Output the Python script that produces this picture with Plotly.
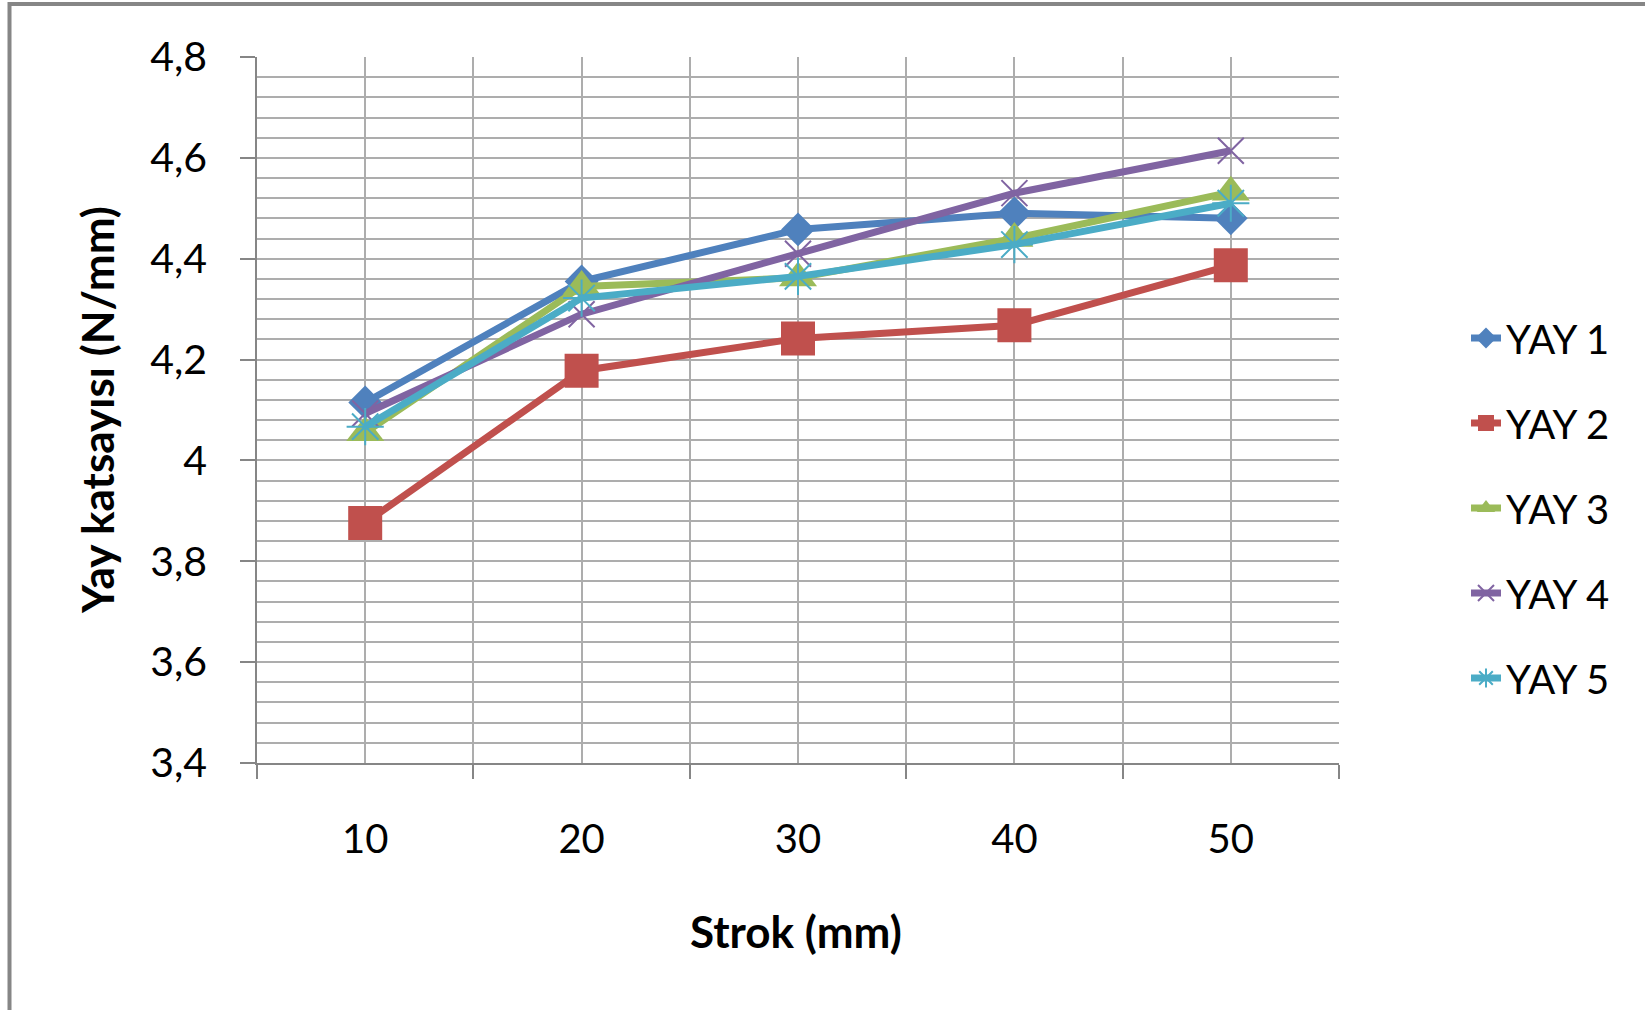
import plotly.graph_objects as go

# ---- data ----
strok = [10, 20, 30, 40, 50]
yay1 = [4.115, 4.355, 4.458, 4.490, 4.480]
yay2 = [3.876, 4.178, 4.242, 4.268, 4.387]
yay3 = [4.055, 4.345, 4.362, 4.440, 4.532]
yay4 = [4.093, 4.290, 4.410, 4.530, 4.614]
yay5 = [4.067, 4.322, 4.365, 4.428, 4.510]
series_names = ["YAY 1", "YAY 2", "YAY 3", "YAY 4", "YAY 5"]
y_tickvals = [3.4, 3.6, 3.8, 4.0, 4.2, 4.4, 4.6, 4.8]
y_ticktext = ["3,4", "3,6", "3,8", "4", "4,2", "4,4", "4,6", "4,8"]
x_ticktext = ["10", "20", "30", "40", "50"]

colors = ["#4F81BD", "#C0504D", "#9BBB59", "#8064A2", "#4BACC6"]
symbols = ["diamond", "square", "triangle-up", "x-thin-open", "asterisk-open"]
sizes = [26, 34, 33, 26, 31]
mlw = [0, 0, 0, 2, 2]

W, H = 1645, 1010
L, R, T, B = 257, 1645 - 1339, 57, 1010 - 763
pw, ph = W - L - R, H - T - B

def px_x(px):
    return (px - L) / pw

def px_y(py):
    return (H - B - py) / ph

FONT = "Lato"
fig = go.Figure()
for i, vals in enumerate([yay1, yay2, yay3, yay4, yay5]):
    fig.add_trace(go.Scatter(
        x=strok, y=vals, name=series_names[i], mode="lines+markers",
        legendgroup=f"g{i}",
        line=dict(color=colors[i], width=7),
        marker=dict(symbol=symbols[i], size=sizes[i], color=colors[i],
                    line=dict(color=colors[i], width=mlw[i])),
    ))

fig.update_layout(
    width=W, height=H,
    margin=dict(l=L, r=R, t=T, b=B, autoexpand=False),
    paper_bgcolor="white", plot_bgcolor="white",
    font=dict(family=FONT, size=40, color="#000000"),
    showlegend=True,
    legend=dict(x=px_x(1466), y=px_y(508), xanchor="left", yanchor="middle",
                font=dict(family=FONT, size=40, color="#000000"),
                tracegroupgap=30, bgcolor="rgba(0,0,0,0)"),
    xaxis=dict(
        range=[5, 55], tickvals=strok, ticktext=x_ticktext, ticks="",
        showgrid=True, gridcolor="#adadad", gridwidth=1.5,
        showline=True, linecolor="#868686", linewidth=1.5,
        zeroline=False, ticklabelstandoff=40,
        tickfont=dict(family=FONT, size=40, color="#000000"),
        minor=dict(tick0=5, dtick=10, ticks="outside", ticklen=14,
                   tickcolor="#868686", tickwidth=1.5,
                   showgrid=True, gridcolor="#adadad", gridwidth=1.5),
    ),
    yaxis=dict(
        range=[3.4, 4.8], tickvals=y_tickvals, ticktext=y_ticktext,
        ticks="outside", ticklen=15, tickcolor="#868686", tickwidth=1.5,
        showgrid=True, gridcolor="#adadad", gridwidth=1.5,
        showline=True, linecolor="#868686", linewidth=1.5,
        zeroline=False, ticklabelstandoff=25,
        tickfont=dict(family=FONT, size=41, color="#000000"),
        minor=dict(dtick=0.04, tick0=3.4, ticks="", showgrid=True,
                   gridcolor="#adadad", gridwidth=1.5),
    ),
    annotations=[
        dict(text="<b>Strok (mm)</b>", xref="paper", yref="paper",
             x=px_x(796), y=px_y(931), xanchor="center", yanchor="middle",
             showarrow=False, font=dict(family=FONT, size=44, color="#000000")),
        dict(text="<b>Yay katsayısı (N/mm)</b>", xref="paper", yref="paper",
             x=px_x(97), y=px_y(410), xanchor="center", yanchor="middle",
             textangle=-90, showarrow=False,
             font=dict(family=FONT, size=44, color="#000000")),
    ],
    shapes=[
        dict(type="line", xref="paper", yref="paper",
             x0=px_x(8), x1=px_x(W + 5), y0=px_y(4), y1=px_y(4),
             line=dict(color="#868686", width=4)),
        dict(type="line", xref="paper", yref="paper",
             x0=px_x(9.5), x1=px_x(9.5), y0=px_y(2), y1=px_y(H + 5),
             line=dict(color="#868686", width=4)),
    ],
)

fig.write_html("out.html")
